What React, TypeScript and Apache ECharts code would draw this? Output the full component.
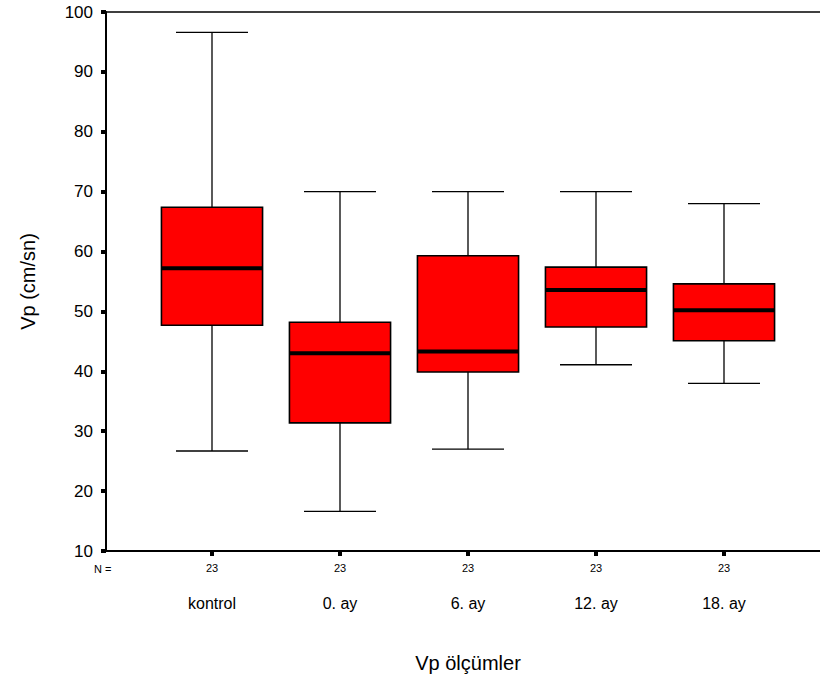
import React, { useEffect, useRef } from "react";
import * as echarts from "echarts";

const categories = ["kontrol", "0. ay", "6. ay", "12. ay", "18. ay"];
const counts = [23, 23, 23, 23, 23];
// [low whisker, Q1, median, Q3, high whisker]
const lowWhisker = [26.7, 16.6, 27.0, 41.1, 38.0];
const q1Values = [47.7, 31.4, 39.9, 47.4, 45.1];
const medianValues = [57.2, 43.0, 43.3, 53.6, 50.2];
const q3Values = [67.4, 48.2, 59.3, 57.4, 54.6];
const highWhisker = [96.6, 70.0, 70.0, 70.0, 68.0];
const yTicks = [10, 100, 10]; // min, max, interval

const FONT = "'Liberation Sans', Arial, Helvetica, sans-serif";

export default function App() {
  const ref = useRef<HTMLDivElement>(null);

  useEffect(() => {
    if (!ref.current) return;
    const chart = echarts.init(ref.current, null, { renderer: "svg" });

    const data = categories.map((_, i) => [
      i,
      lowWhisker[i],
      q1Values[i],
      medianValues[i],
      q3Values[i],
      highWhisker[i],
    ]);

    const option: any = {
      animation: false,
      backgroundColor: "#ffffff",
      grid: [
        { left: 106, right: 0, top: 12, bottom: 136 },
        { left: 148, right: 32, top: 12, bottom: 136 },
      ],
      xAxis: [
        {
          gridIndex: 0,
          type: "value",
          min: 0,
          max: 1,
          axisLine: { show: true, onZero: false, lineStyle: { color: "#000", width: 2 } },
          axisTick: { show: false },
          axisLabel: { show: false },
          splitLine: { show: false },
        },
        {
          gridIndex: 0,
          type: "value",
          position: "top",
          min: 0,
          max: 1,
          axisLine: { show: true, onZero: false, lineStyle: { color: "#000", width: 1.6 } },
          axisTick: { show: false },
          axisLabel: { show: false },
          splitLine: { show: false },
        },
        {
          gridIndex: 1,
          type: "category",
          data: categories,
          boundaryGap: true,
          axisLine: { show: false },
          axisTick: {
            show: true,
            alignWithLabel: true,
            length: 5,
            lineStyle: { color: "#000", width: 4 },
          },
          axisLabel: {
            interval: 0,
            margin: 10,
            formatter: (val: string, idx: number) => `{n|${counts[idx]}}\n{c|${val}}`,
            rich: {
              n: { fontSize: 11, lineHeight: 14, color: "#000", fontFamily: FONT },
              c: { fontSize: 16, lineHeight: 56, color: "#000", fontFamily: FONT },
            },
          },
          name: "Vp ölçümler",
          nameLocation: "middle",
          nameGap: 102,
          nameTextStyle: { fontSize: 20, color: "#000", fontFamily: FONT },
        },
      ],
      yAxis: [
        {
          gridIndex: 0,
          type: "value",
          min: yTicks[0],
          max: yTicks[1],
          interval: yTicks[2],
          axisLine: { show: true, lineStyle: { color: "#000", width: 2 } },
          axisTick: { show: true, length: 5, lineStyle: { color: "#000", width: 4 } },
          axisLabel: { margin: 13, fontSize: 17, color: "#000", fontFamily: FONT },
          splitLine: { show: false },
          name: "Vp (cm/sn)",
          nameLocation: "middle",
          nameGap: 68,
          nameTextStyle: { fontSize: 20, color: "#000", fontFamily: FONT },
        },
        {
          gridIndex: 1,
          type: "value",
          min: yTicks[0],
          max: yTicks[1],
          interval: yTicks[2],
          show: false,
        },
      ],
      graphic: [
        {
          type: "text",
          left: 94,
          top: 563,
          style: { text: "N =", fontSize: 11, fill: "#000", fontFamily: FONT },
        },
      ],
      series: [
        {
          type: "custom",
          xAxisIndex: 2,
          yAxisIndex: 1,
          data,
          renderItem: (params: any, api: any) => {
            const i = api.value(0);
            const lo = api.coord([i, api.value(1)]);
            const q1 = api.coord([i, api.value(2)]);
            const md = api.coord([i, api.value(3)]);
            const q3 = api.coord([i, api.value(4)]);
            const hi = api.coord([i, api.value(5)]);
            const band = api.size([1, 0])[0];
            const bw = band * 0.79;
            const cw = band * 0.5625;
            const x = lo[0];
            const line = { stroke: "#000", lineWidth: 1.3 };
            return {
              type: "group",
              children: [
                { type: "line", shape: { x1: x, y1: q3[1], x2: x, y2: hi[1] }, style: line },
                { type: "line", shape: { x1: x, y1: q1[1], x2: x, y2: lo[1] }, style: line },
                { type: "line", shape: { x1: x - cw / 2, y1: hi[1], x2: x + cw / 2, y2: hi[1] }, style: line },
                { type: "line", shape: { x1: x - cw / 2, y1: lo[1], x2: x + cw / 2, y2: lo[1] }, style: line },
                {
                  type: "rect",
                  shape: { x: x - bw / 2, y: q3[1], width: bw, height: q1[1] - q3[1] },
                  style: { fill: "#ff0000", stroke: "#000", lineWidth: 1.6 },
                },
                {
                  type: "line",
                  shape: { x1: x - bw / 2, y1: md[1], x2: x + bw / 2, y2: md[1] },
                  style: { stroke: "#000", lineWidth: 4 },
                },
              ],
            };
          },
        },
      ],
    };

    chart.setOption(option);
    return () => chart.dispose();
  }, []);

  return (
    <div
      ref={ref}
      style={{ position: "absolute", left: 0, top: 0, width: 820, height: 687, background: "#fff" }}
    />
  );
}
